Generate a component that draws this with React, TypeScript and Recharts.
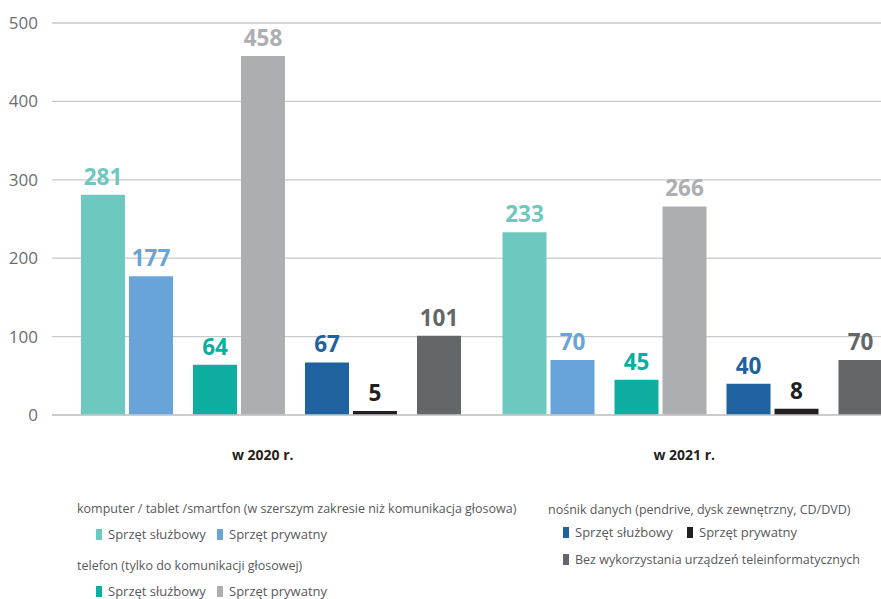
import { BarChart, Bar, XAxis, YAxis, CartesianGrid, LabelList } from 'recharts';

// categories
const years = ['w 2020 r.', 'w 2021 r.'];

// series values (2020, 2021)
const komputerSluzbowy = [281, 233];
const komputerPrywatny = [177, 70];
const telefonSluzbowy = [64, 45];
const telefonPrywatny = [458, 266];
const nosnikSluzbowy = [67, 40];
const nosnikPrywatny = [5, 8];
const bezUrzadzen = [101, 70];

const yTicks = [0, 100, 200, 300, 400, 500];

// legend texts
const komputerTitle = 'komputer / tablet /smartfon (w szerszym zakresie niż komunikacja głosowa)';
const telefonTitle = 'telefon (tylko do komunikacji głosowej)';
const nosnikTitle = 'nośnik danych (pendrive, dysk zewnętrzny, CD/DVD)';
const sluzbowyLabel = 'Sprzęt służbowy';
const prywatnyLabel = 'Sprzęt prywatny';
const bezLabel = 'Bez wykorzystania urządzeń teleinformatycznych';

const colors = {
  komputerSluzbowy: '#6dc8bf',
  komputerPrywatny: '#68a4d9',
  telefonSluzbowy: '#0daea0',
  telefonPrywatny: '#adaeb1',
  nosnikSluzbowy: '#1f62a0',
  nosnikPrywatny: '#231f20',
  bezUrzadzen: '#646769',
};

const data = years.map((year, i) => ({
  name: year,
  komputerSluzbowy: komputerSluzbowy[i],
  komputerPrywatny: komputerPrywatny[i],
  telefonSluzbowy: telefonSluzbowy[i],
  telefonPrywatny: telefonPrywatny[i],
  nosnikSluzbowy: nosnikSluzbowy[i],
  nosnikPrywatny: nosnikPrywatny[i],
  bezUrzadzen: bezUrzadzen[i],
  spacer: 0,
}));

const FONT = '"Open Sans", sans-serif';
const BAR = 44;
const GAP = 12;

// null = empty slot between the device groups
const series = [
  'komputerSluzbowy',
  'komputerPrywatny',
  null,
  'telefonSluzbowy',
  'telefonPrywatny',
  null,
  'nosnikSluzbowy',
  'nosnikPrywatny',
  null,
  'bezUrzadzen',
];

const legendText: React.CSSProperties = {
  position: 'absolute',
  fontFamily: FONT,
  fontSize: 12.5,
  color: '#58595b',
  whiteSpace: 'nowrap',
  lineHeight: '16px',
};

const Item = ({ color, label, left, top, size = 13 }: { color: string; label: string; left: number; top: number; size?: number }) => (
  <div style={{ ...legendText, left, top, fontSize: size }}>
    <span
      style={{
        display: 'inline-block',
        width: 6,
        height: 11,
        background: color,
        marginRight: 6,
        verticalAlign: '-1px',
      }}
    />
    {label}
  </div>
);

const App = () => {
  return (
    <div
      style={{
        position: 'absolute',
        left: 0,
        top: 0,
        width: 881,
        height: 599,
        overflow: 'hidden',
        background: '#fff',
      }}
    >
      <BarChart
        width={903}
        height={480}
        data={data}
        margin={{ top: 23, right: 0, left: 0, bottom: 15 }}
        barGap={4}
      >
        <CartesianGrid vertical={false} stroke="#c8c9ca" strokeWidth={1.3} />
        <XAxis
          dataKey="name"
          axisLine={{ stroke: '#c8c9ca', strokeWidth: 1.5 }}
          tickLine={false}
          tickSize={0}
          tickMargin={35}
          height={50}
          padding={{ left: 8, right: 0 }}
          tick={{ fill: '#231f20', fontSize: 14, fontWeight: 700, fontFamily: FONT, dx: -8 }}
        />
        <YAxis
          width={52}
          domain={[0, 500]}
          ticks={yTicks}
          axisLine={false}
          tickLine={false}
          tickSize={0}
          tickMargin={14}
          tick={{ fill: '#6d6e71', fontSize: 17, fontFamily: FONT }}
        />
        {series.map((key, i) =>
          key ? (
            <Bar
              key={key}
              dataKey={key}
              fill={colors[key as keyof typeof colors]}
              barSize={BAR}
              isAnimationActive={false}
            >
              <LabelList
                dataKey={key}
                position="top"
                offset={10}
                fill={colors[key as keyof typeof colors]}
                fontSize={22.5}
                fontWeight={700}
                fontFamily={FONT}
              />
            </Bar>
          ) : (
            <Bar
              key={'spacer' + i}
              dataKey="spacer"
              fill="none"
              barSize={GAP}
              isAnimationActive={false}
            />
          )
        )}
      </BarChart>

      <div style={{ ...legendText, left: 77, top: 501 }}>{komputerTitle}</div>
      <Item color={colors.komputerSluzbowy} label={sluzbowyLabel} left={96} top={526} />
      <Item color={colors.komputerPrywatny} label={prywatnyLabel} left={217} top={526} />
      <div style={{ ...legendText, left: 77, top: 558 }}>{telefonTitle}</div>
      <Item color={colors.telefonSluzbowy} label={sluzbowyLabel} left={96} top={583} />
      <Item color={colors.telefonPrywatny} label={prywatnyLabel} left={217} top={583} />

      <div style={{ ...legendText, left: 548, top: 502 }}>{nosnikTitle}</div>
      <Item color={colors.nosnikSluzbowy} label={sluzbowyLabel} left={563} top={524} />
      <Item color={colors.nosnikPrywatny} label={prywatnyLabel} left={687} top={524} />
      <Item color={colors.bezUrzadzen} label={bezLabel} left={563} top={552} size={12.5} />
    </div>
  );
};

export default App;
